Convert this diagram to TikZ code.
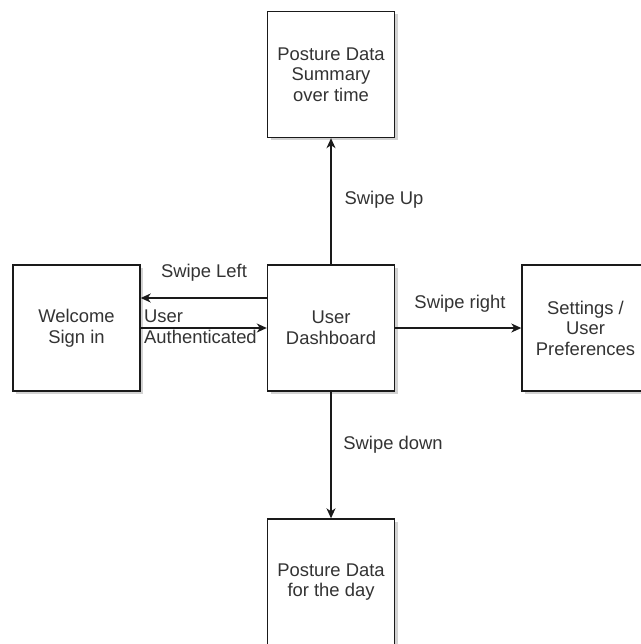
\documentclass[tikz,border=0pt]{standalone}
\usepackage{fontspec}
\setmainfont{Liberation Sans}
\usetikzlibrary{arrows.meta,shadows}
\definecolor{txt}{HTML}{333333}
\definecolor{ln}{HTML}{1A1A1A}
\begin{document}
\begin{tikzpicture}[x=1pt,y=-1pt,
  box/.style={draw=ln,line width=1.4pt,fill=white,minimum width=127pt,minimum height=126pt,
    align=center,text=txt,font=\fontsize{18.4}{20.5}\selectfont,inner sep=0pt,
    drop shadow={shadow xshift=3pt,shadow yshift=-3pt,opacity=0.35,fill=gray}},
  arr/.style={draw=ln,line width=1.4pt,-{Stealth[length=10pt,width=9pt,inset=3pt]}},
  lbl/.style={text=txt,font=\fontsize{18.4}{20.5}\selectfont,inner sep=0pt,align=left}]
\useasboundingbox (0,0) rectangle (640,644);
\fill[white] (0,0) rectangle (640,644);
\node[box] (T) at (331,74.5) {Posture Data\\Summary\\over time};
\node[box] (C) at (331,328) {User\\Dashboard};
\node[box] (L) at (76.5,328) {Welcome\\Sign in};
\node[box] (R) at (585.5,328) {Settings /\\User\\Preferences};
\node[box] (B) at (331,582) {Posture Data\\for the day};
\draw[arr] ([yshift=30pt]C.west) -- ([yshift=30pt]L.east);
\draw[arr] (L.east) -- (C.west);
\draw[arr] (C.east) -- (R.west);
\draw[arr] (C.north) -- (T.south);
\draw[arr] (C.south) -- (B.north);
\node[lbl] (sl) at (204,273) {Swipe Left};
\node[lbl,anchor=north west] (ua) at (144,310) {User\\Authenticated};
\node[lbl] (sr) at (460,304) {Swipe right};
\node[lbl] (su) at (384,200) {Swipe Up};
\node[lbl] (sd) at (393,445) {Swipe down};
\end{tikzpicture}
\end{document}
